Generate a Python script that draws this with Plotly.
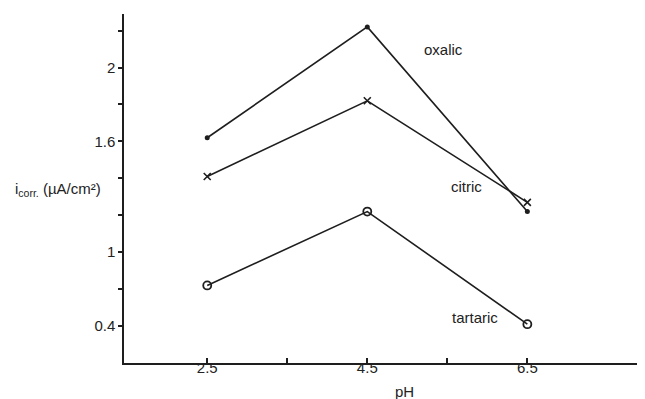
import plotly.graph_objects as go

ph = [2.5, 4.5, 6.5]
oxalic = [1.62, 2.22, 1.22]
citric = [1.41, 1.82, 1.27]
tartaric = [0.82, 1.22, 0.61]

y_tickvals = [0.6, 1.0, 1.6, 2.0]
y_ticktext = ["0.4", "1", "1.6", "2"]
y_minor = [0.8, 1.2, 1.4, 1.8, 2.2]
x_tickvals = [2.5, 4.5, 6.5]
x_ticktext = ["2.5", "4.5", "6.5"]
x_minor = [3.5, 5.5]

ink = "#1e1e1e"
font = dict(family="Liberation Sans, Arial, sans-serif", size=15, color="#222")

fig = go.Figure()
fig.add_trace(go.Scatter(x=ph, y=oxalic, mode="lines+markers", name="oxalic",
                         line=dict(color=ink, width=1.6),
                         marker=dict(symbol="circle", size=5, color=ink)))
fig.add_trace(go.Scatter(x=ph, y=citric, mode="lines+markers", name="citric",
                         line=dict(color=ink, width=1.6),
                         marker=dict(symbol="x-thin", size=7, line=dict(color=ink, width=1.6))))
fig.add_trace(go.Scatter(x=ph, y=tartaric, mode="lines+markers", name="tartaric",
                         line=dict(color=ink, width=1.6),
                         marker=dict(symbol="circle-open", size=8, color=ink, line=dict(width=1.8))))

labels = [("oxalic", 5.45, 2.10), ("citric", 5.74, 1.358), ("tartaric", 5.84, 0.649)]
for txt, x, y in labels:
    fig.add_annotation(x=x, y=y, text=txt, showarrow=False, xanchor="center",
                       yanchor="middle", font=font)

fig.add_annotation(xref="paper", yref="paper", x=-0.213, y=0.496, xanchor="left",
                   yanchor="middle", text="i<sub>corr.</sub> (µA/cm²)", showarrow=False, font=font)
fig.add_annotation(xref="paper", yref="paper", x=0.539, y=-0.083, xanchor="center",
                   yanchor="middle", text="pH", showarrow=False, font=font)

fig.update_layout(
    width=637, height=391,
    margin=dict(l=116, r=0, t=6, b=36),
    paper_bgcolor="white", plot_bgcolor="white",
    showlegend=False, font=font,
    xaxis=dict(range=[1.46, 7.97], showline=True, linecolor=ink, linewidth=1.5,
               showgrid=False, zeroline=False, tickvals=x_tickvals, ticktext=x_ticktext,
               ticks="inside", ticklen=5, tickcolor=ink, tickwidth=1.5,
               ticklabelstandoff=-10,
               minor=dict(tickvals=x_minor, ticks="inside", ticklen=5, tickcolor=ink, tickwidth=1.5)),
    yaxis=dict(range=[0.4, 2.29], showline=True, linecolor=ink, linewidth=1.5,
               showgrid=False, zeroline=False, tickvals=y_tickvals, ticktext=y_ticktext,
               ticks="outside", ticklen=4, tickcolor=ink, tickwidth=1.5,
               minor=dict(tickvals=y_minor, ticks="outside", ticklen=4, tickcolor=ink, tickwidth=1.5)),
)

fig.write_html("out.html")
